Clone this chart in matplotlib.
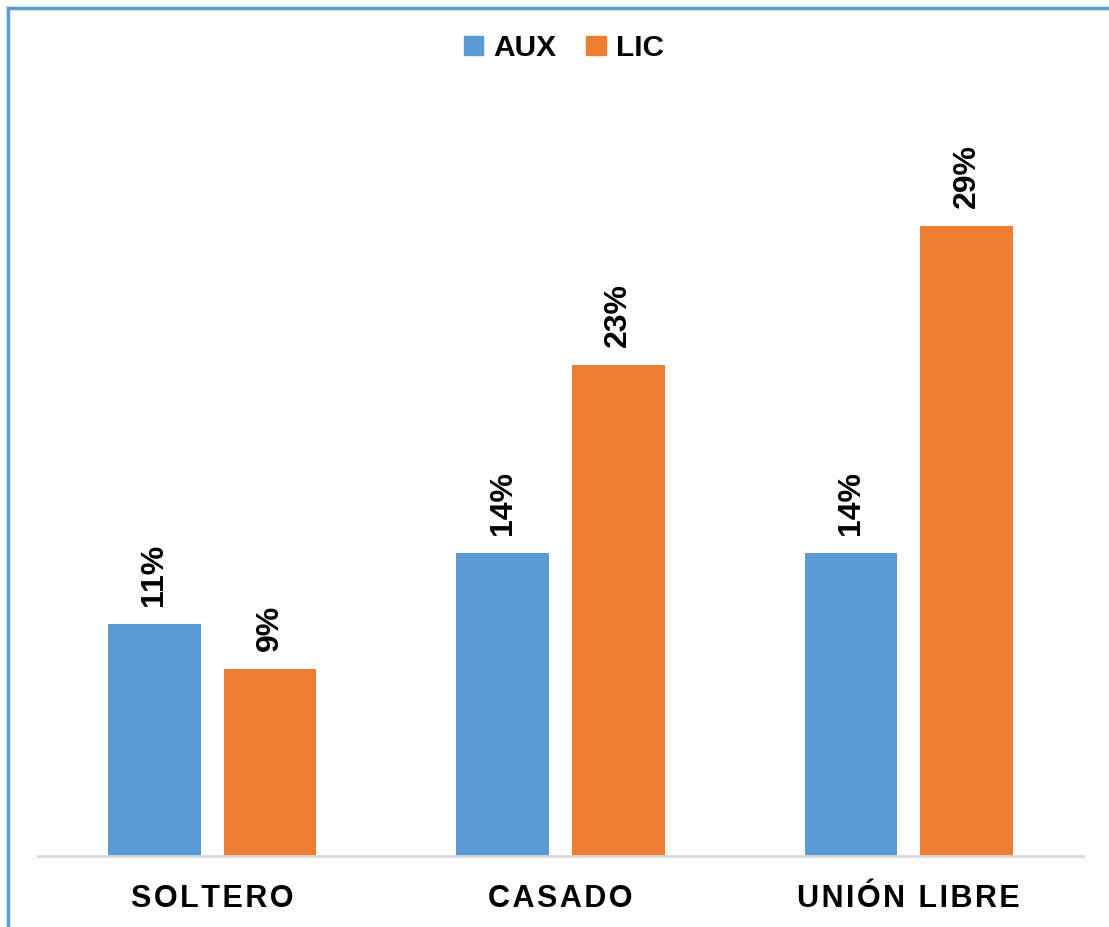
import numpy as np
import matplotlib.pyplot as plt
from matplotlib.lines import Line2D
from matplotlib.patches import Patch

categories = ["SOLTERO", "CASADO", "UNIÓN LIBRE"]
aux = [10.7, 13.95, 13.95]
lic = [8.6, 22.6, 29.0]
aux_labels = ["11%", "14%", "14%"]
lic_labels = ["9%", "23%", "29%"]

plt.rcParams['font.family'] = ['Liberation Sans', 'DejaVu Sans']

blue = "#5B9BD5"
orange = "#ED7D31"

fig = plt.figure(figsize=(11.09, 9.27), dpi=100)
ax = fig.add_axes([38 / 1109, 71 / 927, 1045 / 1109, 760 / 927])

x = np.arange(len(categories))
w = 0.2665
off = 0.166
b1 = ax.bar(x - off, aux, w, color=blue)
b2 = ax.bar(x + off, lic, w, color=orange)

for bars, labels in ((b1, aux_labels), (b2, lic_labels)):
    for b, lab in zip(bars, labels):
        ax.annotate(lab, (b.get_x() + b.get_width() / 2, b.get_height()),
                    xytext=(0, 18), textcoords="offset pixels",
                    rotation=90, ha="center", va="bottom",
                    fontsize=23, fontweight="bold")

# spread letters a bit like the original
spaced = ["\u200a".join(c) for c in categories]

ax.set_xlim(-0.5, 2.5)
ax.set_ylim(0, 35)
ax.set_yticks([])
ax.set_xticks(x)
ax.set_xticklabels(spaced, fontsize=22, fontweight="bold")
ax.tick_params(axis="x", length=0, pad=20)
for s in ("top", "right", "left"):
    ax.spines[s].set_visible(False)
ax.spines["bottom"].set_color("#D9D9D9")
ax.spines["bottom"].set_linewidth(2)

handles = [Patch(color=blue, label="AUX"), Patch(color=orange, label="LIC")]
fig.legend(handles=handles, loc="center", bbox_to_anchor=(564 / 1109, 1 - 48 / 927),
           ncol=2, frameon=False, prop={"size": 21.5, "weight": "bold"},
           handlelength=0.65, handleheight=0.65, handletextpad=0.35, columnspacing=1.0)

# chart border (top and left edges visible)
fig.add_artist(Line2D([8 / 1109, 1], [1 - 8 / 927, 1 - 8 / 927], color=blue, lw=2.5))
fig.add_artist(Line2D([8 / 1109, 8 / 1109], [0, 1 - 8 / 927], color=blue, lw=2.5))

fig.savefig("out.png", dpi=100)
